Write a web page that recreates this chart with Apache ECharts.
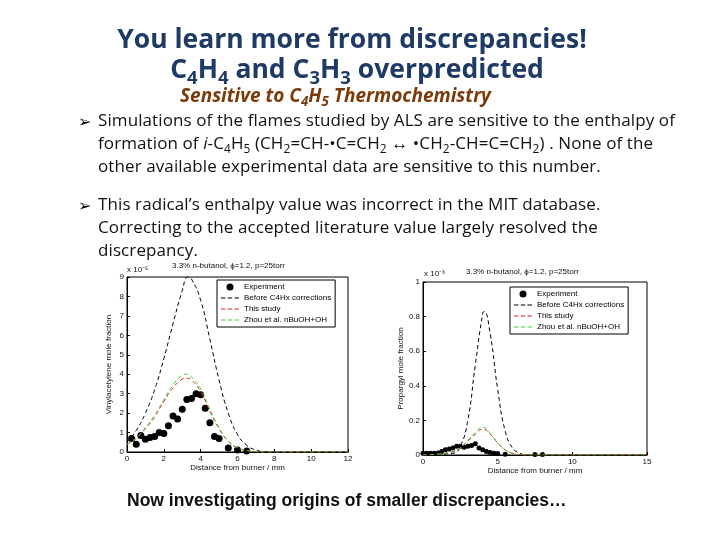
<!DOCTYPE html>
<html><head><meta charset="utf-8">
<script src="https://cdn.jsdelivr.net/npm/echarts@6/dist/echarts.min.js"></script>
<style>
body{margin:0;background:#fff;}
#wrap{position:relative;width:720px;height:540px;overflow:hidden;font-family:"Open Sans",sans-serif;}
#c{position:absolute;left:0;top:0;width:720px;height:540px;}
.t{position:absolute;white-space:nowrap;}
.h{left:0;width:720px;text-align:center;color:#1f3a64;font-weight:bold;font-size:26.5px;}
.b{left:98px;font-size:17px;color:#111;line-height:23px;letter-spacing:0.1px;}
.arr{position:absolute;left:78px;font-size:16px;}
sub{font-size:70%;line-height:0;vertical-align:-0.3em;}
</style></head><body>
<div id="wrap">
<div id="c"></div>
<div class="t h" style="top:20px;left:-8px">You learn more from discrepancies!</div>
<div class="t h" style="top:50px;left:-3px">C<sub>4</sub>H<sub>4</sub> and C<sub>3</sub>H<sub>3</sub> overpredicted</div>
<div class="t" style="top:82px;left:180px;color:#7b3a0a;font-style:italic;font-weight:bold;font-size:19px">Sensitive to C<sub>4</sub>H<sub>5</sub> Thermochemistry</div>
<div class="arr" style="top:110px">➢</div>
<div class="t b" style="top:108px">Simulations of the flames studied by ALS are sensitive to the enthalpy of<br>formation of <i>i</i>-C<sub>4</sub>H<sub>5</sub> (CH<sub>2</sub>=CH-•C=CH<sub>2</sub> ↔ •CH<sub>2</sub>-CH=C=CH<sub>2</sub>) . None of the<br>other available experimental data are sensitive to this number.</div>
<div class="arr" style="top:194px">➢</div>
<div class="t b" style="top:192px">This radical’s enthalpy value was incorrect in the MIT database.<br>Correcting to the accepted literature value largely resolved the<br>discrepancy.</div>
<div class="t" style="top:490px;left:127px;font-family:'Liberation Sans',Arial,sans-serif;font-weight:bold;font-size:17.5px;color:#111">Now investigating origins of smaller discrepancies…</div>
</div>
<script>
const namesL=['Experiment','Before C4Hx corrections','This study','Zhou et al. nBuOH+OH'];
const expL=[[0.25,0.7],[0.5,0.4],[0.75,0.85],[1,0.65],[1.25,0.75],[1.5,0.8],[1.75,1.0],[2,0.95],[2.25,1.35],[2.5,1.85],[2.75,1.7],[3,2.2],[3.25,2.7],[3.5,2.75],[3.75,3.0],[4,2.95],[4.25,2.25],[4.5,1.5],[4.75,0.8],[5,0.7],[5.5,0.2],[6,0.1],[6.5,0.05]];
const beforeL=[[0,0.5],[0.5,1.1],[1,2.0],[1.5,3.2],[2,4.8],[2.5,6.6],[3,8.3],[3.3,9.0],[3.5,8.9],[4,7.8],[4.5,5.8],[5,3.7],[5.5,2.0],[6,0.9],[6.5,0.35],[7,0.1],[7.5,0.02],[8,0],[12,0]];
const studyL=[[0,0.4],[0.5,0.7],[1,1.2],[1.5,1.8],[2,2.6],[2.5,3.3],[3,3.75],[3.2,3.8],[3.5,3.7],[4,3.1],[4.5,2.1],[5,1.2],[5.5,0.55],[6,0.2],[6.5,0.07],[7,0.02],[7.5,0],[12,0]];
const zhouL=[[0,0.4],[0.5,0.72],[1,1.25],[1.5,1.9],[2,2.7],[2.5,3.45],[3,3.95],[3.2,4.0],[3.5,3.85],[4,3.25],[4.5,2.2],[5,1.25],[5.5,0.58],[6,0.22],[6.5,0.08],[7,0.02],[7.5,0],[12,0]];
const expR=[[0,0.01],[0.25,0.01],[0.5,0.01],[0.75,0.01],[1,0.012],[1.25,0.02],[1.5,0.03],[1.75,0.035],[2,0.04],[2.25,0.05],[2.5,0.05],[2.75,0.045],[3,0.05],[3.25,0.055],[3.5,0.065],[3.75,0.04],[4,0.03],[4.25,0.02],[4.5,0.015],[4.75,0.01],[5,0.008],[5.5,0.005],[7.5,0.003],[8,0.003]];
const beforeR=[[0,0],[2,0.01],[2.5,0.05],[3,0.2],[3.5,0.52],[4,0.82],[4.1,0.83],[4.5,0.7],[5,0.38],[5.5,0.14],[6,0.04],[6.5,0.01],[7,0],[15,0]];
const studyR=[[0,0],[1,0.005],[2,0.02],[2.5,0.04],[3,0.08],[3.5,0.12],[4,0.15],[4.5,0.12],[5,0.07],[5.5,0.03],[6,0.01],[6.5,0.002],[7,0],[15,0]];
const zhouR=[[0,0],[1,0.005],[2,0.02],[2.5,0.042],[3,0.085],[3.5,0.13],[4,0.16],[4.5,0.125],[5,0.072],[5.5,0.03],[6,0.01],[6.5,0.002],[7,0],[15,0]];
const colors=['#000','#000','#e02020','#40d040'];
const ch=echarts.init(document.getElementById('c'));
const ax={fontSize:8,color:'#111',fontFamily:'Liberation Sans'};
function xA(gi,max,iv){return {gridIndex:gi,type:'value',min:0,max:max,interval:iv,name:'Distance from burner / mm',nameLocation:'middle',nameGap:11,nameTextStyle:ax,axisLabel:Object.assign({margin:3},ax),axisLine:{lineStyle:{color:'#000'}},axisTick:{inside:true,length:3},splitLine:{show:false}};}
function yA(gi,max,iv,nm){return {gridIndex:gi,type:'value',min:0,max:max,interval:iv,name:nm,nameLocation:'middle',nameGap:14,nameTextStyle:ax,axisLabel:Object.assign({margin:3},ax),axisLine:{show:true,lineStyle:{color:'#000'}},axisTick:{inside:true,length:3},splitLine:{show:false}};}
function ser(gi,d,ss){return [
 {name:namesL[0],type:'scatter',xAxisIndex:gi,yAxisIndex:gi,data:d[0],symbolSize:ss,itemStyle:{color:'#000',opacity:1}},
 {name:namesL[1],type:'line',xAxisIndex:gi,yAxisIndex:gi,data:d[1],smooth:true,symbol:'none',itemStyle:{color:colors[1]},lineStyle:{color:colors[1],width:1,type:[4,3]}},
 {name:namesL[2],type:'line',xAxisIndex:gi,yAxisIndex:gi,data:d[2],smooth:true,symbol:'none',itemStyle:{color:colors[2]},lineStyle:{color:colors[2],width:1,type:[4,3]}},
 {name:namesL[3],type:'line',xAxisIndex:gi,yAxisIndex:gi,data:d[3],smooth:true,symbol:'none',itemStyle:{color:colors[3]},lineStyle:{color:colors[3],width:1,type:[4,3]}}];}
const dashIcon='path://M0,0h4v1h-4zM6,0h4v1h-4zM12,0h4v1h-4z';
function leg(l,t){return {left:l,top:t,orient:'vertical',data:[{name:namesL[0],icon:'circle',itemStyle:{color:'#000'}},{name:namesL[1],icon:dashIcon,itemStyle:{color:colors[1]}},{name:namesL[2],icon:dashIcon,itemStyle:{color:colors[2]}},{name:namesL[3],icon:dashIcon,itemStyle:{color:colors[3]}}],itemWidth:18,itemHeight:7,itemGap:3,padding:[3,4],borderColor:'#000',borderWidth:1,backgroundColor:'#fff',textStyle:{fontSize:8,color:'#000',fontFamily:'Liberation Sans'},selectedMode:false};}
ch.setOption({animation:false,
 grid:[{left:127,top:277,width:221,height:175,show:true,borderColor:'#000',borderWidth:1},{left:423,top:282,width:224,height:173,show:true,borderColor:'#000',borderWidth:1}],
 xAxis:[xA(0,12,2),xA(1,15,5)],
 yAxis:[yA(0,9,1,'Vinylacetylene mole fraction'),yA(1,1,0.2,'Propargyl mole fraction')],
 legend:[leg(217,280),leg(510,287)],
 series:[...ser(0,[expL,beforeL,studyL,zhouL],7),...ser(1,[expR,beforeR,studyR,zhouR],5)],
 graphic:[
  {type:'text',left:172,top:262,style:{text:'3.3% n-butanol, ϕ=1.2, p=25torr',fontSize:8,fill:'#111',fontFamily:'Liberation Sans'}},
  {type:'text',left:127,top:266,style:{text:'x 10⁻⁵',fontSize:8,fill:'#111',fontFamily:'Liberation Sans'}},
  {type:'text',left:466,top:268,style:{text:'3.3% n-butanol, ϕ=1.2, p=25torr',fontSize:8,fill:'#111',fontFamily:'Liberation Sans'}},
  {type:'text',left:424,top:270,style:{text:'x 10⁻³',fontSize:8,fill:'#111',fontFamily:'Liberation Sans'}}
 ]});
</script></body></html>
